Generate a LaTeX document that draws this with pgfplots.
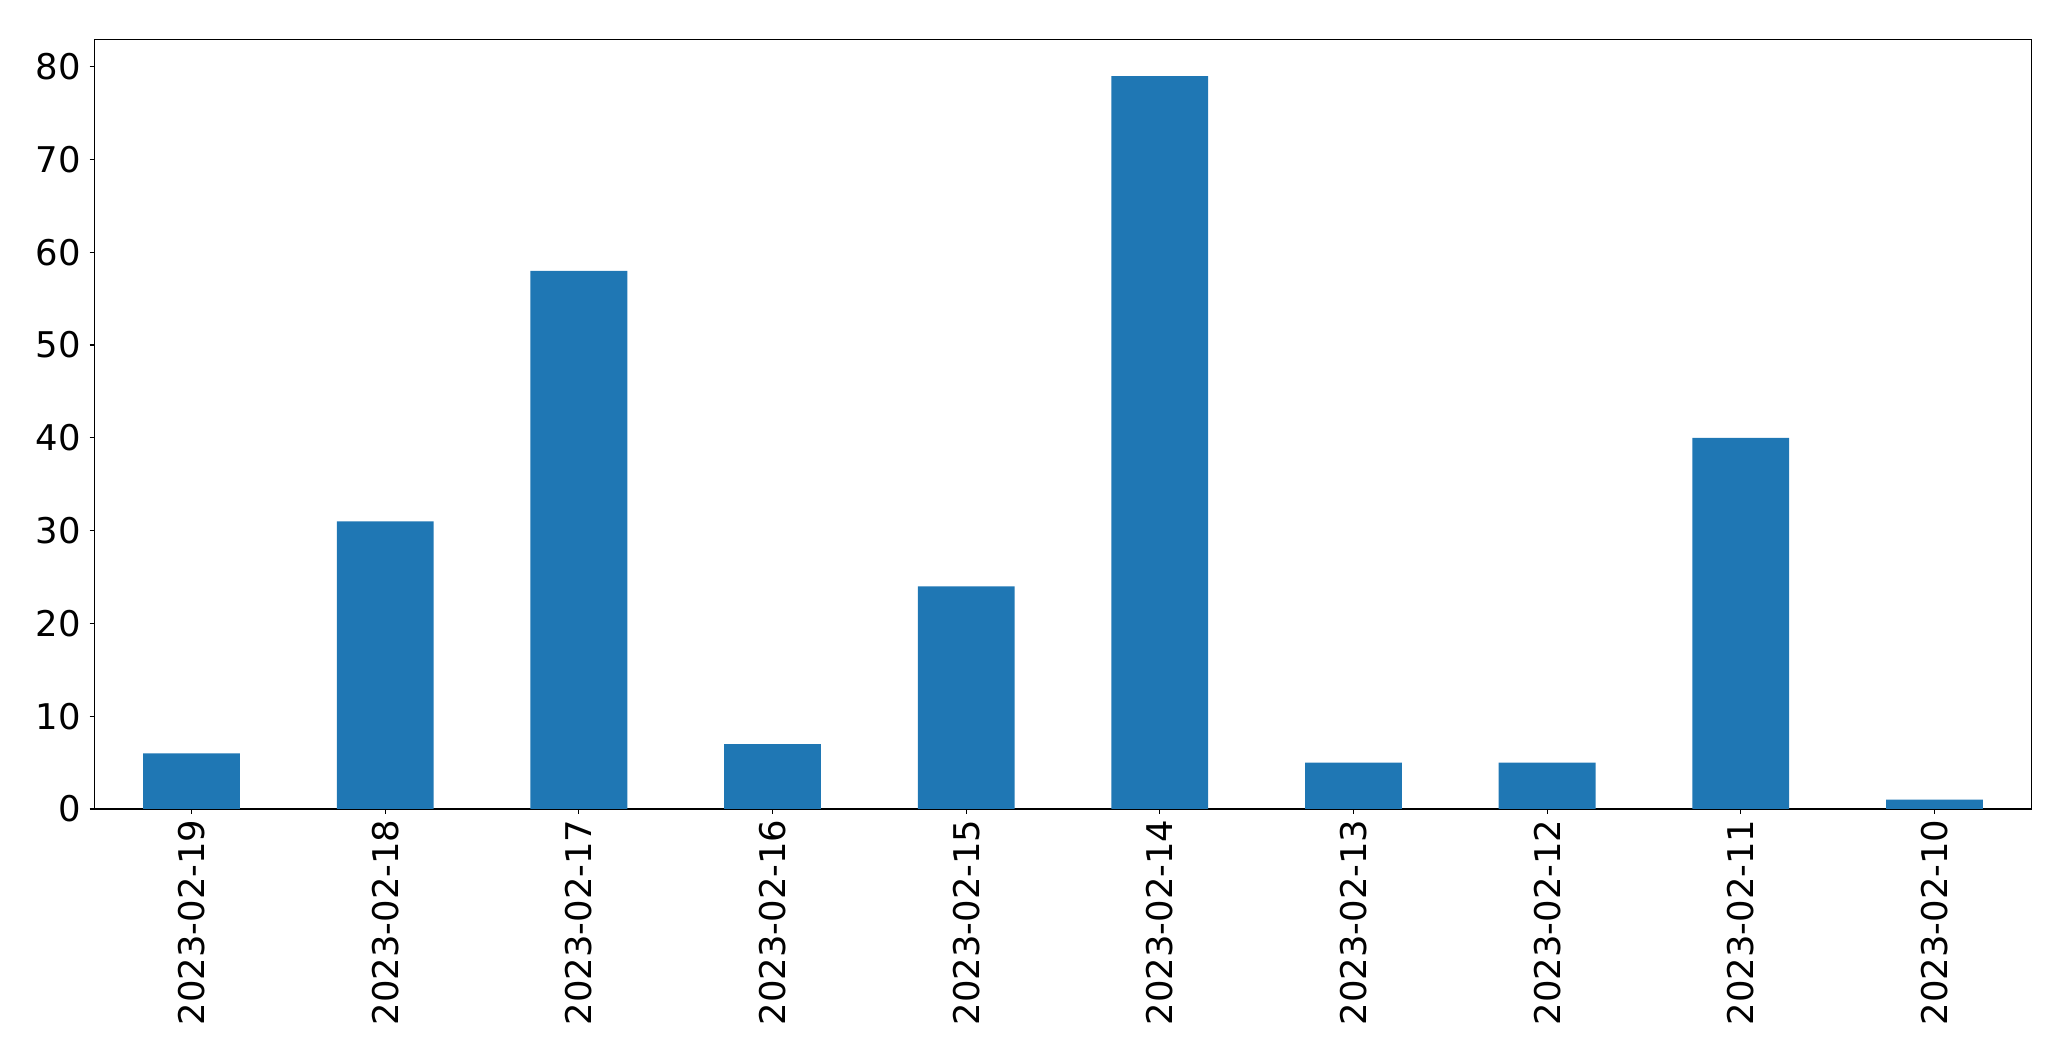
\documentclass[border=0pt]{standalone}
\usepackage{fontspec}
\setmainfont{DejaVu Sans}
\usepackage{pgfplots}
\pgfplotsset{compat=1.18}
\definecolor{mplblue}{HTML}{1F77B4}
\begin{document}
\begin{tikzpicture}
% page frame: 1 px of the reference = 0.25pt
\path[use as bounding box] (-23.675pt,-63pt) rectangle (494.075pt,202.25pt);
\begin{axis}[
    at={(0,0)}, anchor=south west,
    scale only axis,
    width=484.15pt, height=192.4pt,
    ybar, bar width=0.5, bar shift=0pt,
    xmin=-0.5, xmax=9.5,
    ymin=0, ymax=82.95,
    xtick=data,
    xticklabels={2023-02-19,2023-02-18,2023-02-17,2023-02-16,2023-02-15,2023-02-14,2023-02-13,2023-02-12,2023-02-11,2023-02-10},
    ytick={0,10,20,30,40,50,60,70,80},
    tick align=outside,
    major tick length=1.25pt,
    tick style={black, line width=0.3pt},
    xtick pos=bottom, ytick pos=left,
    axis line style={line width=0.3pt},
    ticklabel style={font=\fontsize{8.85}{10.5}\selectfont},
    /pgf/number format/assume math mode=true,
    xticklabel style={rotate=90, anchor=east, inner sep=0pt, xshift=-1.2pt},
    yticklabel style={inner sep=0pt, xshift=-2pt},
]
\addplot[fill=mplblue, draw=none] coordinates {
    (0,6) (1,31) (2,58) (3,7) (4,24) (5,79) (6,5) (7,5) (8,40) (9,1)
};
\end{axis}
\end{tikzpicture}
\end{document}
